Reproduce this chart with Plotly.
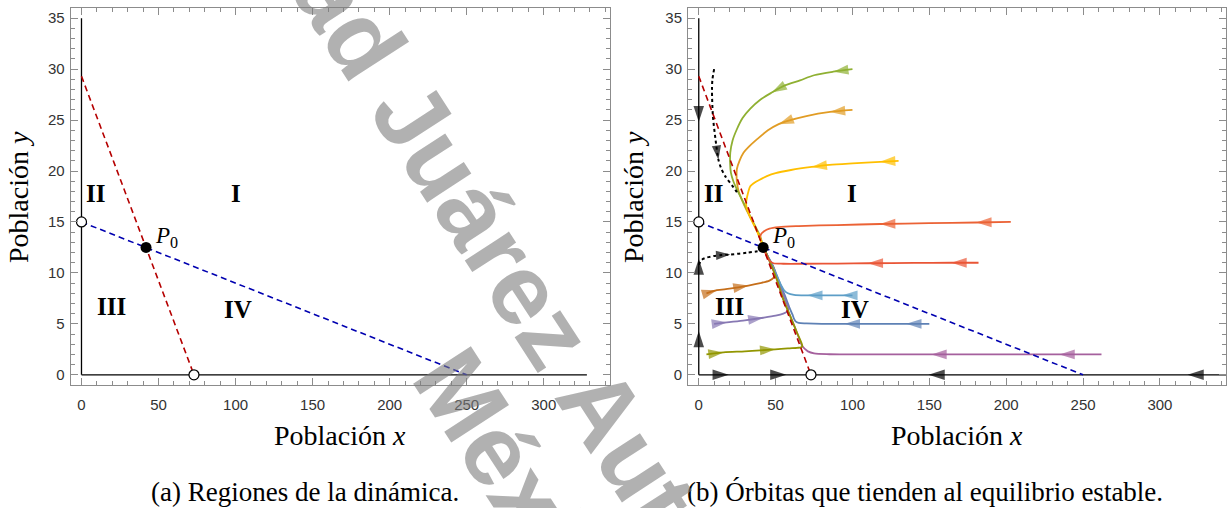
import plotly.graph_objects as go

# ---------------- data ----------------
# nullclines (straight lines through their axis intercepts)
null_x_xs = [0, 73]          # x-nullcline (red)
null_x_ys = [29.3, 0]
null_y_xs = [0, 250]         # y-nullcline (blue)
null_y_ys = [15, 0]

# equilibria
open_eq_x = [0, 73]
open_eq_y = [15, 0]
p0_x = [41.9]
p0_y = [12.5]

# region labels (text, x, y)
region_text = ["II", "I", "III", "IV"]
region_x = [9.3, 100, 19.7, 101.7]
region_y = [17.8, 17.8, 6.7, 6.4]

# orbits: x, y samples, indices carrying an arrowhead (tip), colour
orbits = [
    dict(x=[150, 135, 115, 95, 80, 70, 65, 63, 62, 61, 59, 56, 52, 48, 45, 42],
         y=[5.0, 5.0, 5.0, 5.0, 5.0, 5.05, 5.1, 5.25, 5.5, 5.9, 6.6, 7.8, 9.3, 10.8, 11.6, 12.5],
         arrows=[1, 3], color="#5E81B5"),
    dict(x=[100, 85.4, 70, 57.3, 52, 45, 37.8, 32, 29.1, 26.5, 24.8, 24.6, 24.8, 26, 28, 31, 35, 39, 42],
         y=[26, 25.8, 25.4, 24.9, 24.6, 24, 23.1, 22.3, 21.8, 21, 20.2, 19.5, 18.9, 18, 17.2, 16.2, 15, 13.7, 12.5],
         arrows=[1, 4], color="#E19C24"),
    dict(x=[100, 87.5, 75, 65.9, 56, 47.5, 40, 33.4, 28.5, 24.8, 22, 20.5, 20.4, 20.9, 22.5, 24.8, 29.1, 34.5, 39.9, 42],
         y=[30, 29.75, 29.4, 28.9, 28.4, 27.7, 27, 26.1, 25.2, 24.1, 23, 21.8, 20.8, 19.85, 19, 18.2, 16.9, 15.25, 13.6, 12.5],
         arrows=[1, 5], color="#8FB032"),
    dict(x=[203, 180.6, 150, 118, 90, 65, 52, 46, 42.5, 40.5, 40, 40.5, 41.3, 42],
         y=[15.0, 14.95, 14.88, 14.8, 14.7, 14.6, 14.5, 14.35, 14.1, 13.8, 13.5, 13.1, 12.8, 12.5],
         arrows=[1, 3], color="#EB6235"),
    dict(x=[10, 18.3, 30, 42, 50, 55, 57.5, 58.5, 57, 55, 52, 48, 45, 42],
         y=[5.0, 5.15, 5.35, 5.6, 5.8, 6.0, 6.2, 6.5, 7.1, 7.9, 9.1, 10.6, 11.6, 12.5],
         arrows=[1, 3], color="#8778B3"),
    dict(x=[5, 11.8, 20, 32.3, 40, 46, 48.5, 49.5, 49, 47, 45, 43.5, 42],
         y=[8.0, 8.3, 8.45, 8.76, 9.0, 9.25, 9.5, 9.9, 10.4, 11, 11.5, 12, 12.5],
         arrows=[1, 3], color="#C56E1A"),
    dict(x=[100, 93.4, 82, 70.6, 62, 58, 55.5, 53.5, 52, 50.5, 48, 45, 42],
         y=[7.8, 7.8, 7.8, 7.8, 7.85, 8.0, 8.3, 8.8, 9.3, 9.8, 10.7, 11.6, 12.5],
         arrows=[1, 3], color="#5D9EC7"),
    dict(x=[130, 118, 100, 85, 73.5, 60, 50, 44.3, 39, 36.7, 33.5, 32.3, 31.5, 30.8, 31, 32, 34, 36, 38.5, 40.5, 42],
         y=[21, 20.9, 20.75, 20.6, 20.4, 20.1, 19.8, 19.5, 19.1, 18.9, 18.5, 18.0, 17.5, 16.9, 16.5, 16, 15.3, 14.7, 13.9, 13.2, 12.5],
         arrows=[1, 4], color="#FFBF00"),
    dict(x=[262, 234.7, 200, 151.4, 110, 85, 75, 71, 69, 67.4, 64, 60.5, 55, 50.8, 46.5, 43, 42],
         y=[2.0, 2.0, 2.0, 2.0, 2.0, 2.02, 2.1, 2.3, 2.55, 2.8, 4.1, 5.4, 7.4, 9.35, 11, 12.2, 12.5],
         arrows=[1, 3], color="#A5609D"),
    dict(x=[5, 16.1, 30, 40, 49.7, 58, 64, 66.5, 67.4, 64, 60.5, 55, 50.8, 46.5, 43, 42],
         y=[2.0, 2.2, 2.3, 2.4, 2.5, 2.6, 2.65, 2.7, 2.8, 4.1, 5.4, 7.4, 9.35, 11, 12.2, 12.5],
         arrows=[1, 4], color="#929600"),
    dict(x=[182, 164.4, 140, 110, 90, 70, 55, 48.6, 46.4, 44.8, 43.5, 42],
         y=[11.0, 11.0, 10.98, 10.95, 10.92, 10.9, 10.9, 10.95, 11.15, 11.5, 11.9, 12.5],
         arrows=[1, 3], color="#E95536"),
]

# dotted orbits starting near the y axis
dotted_orbits = [
    dict(x=[10, 8.9, 8.6, 9.2, 10.9, 12.8, 14.5, 17.2, 22.6, 25.9],
         y=[30, 29, 28, 25.4, 23.1, 21.1, 20.3, 19.5, 18.4, 17.7], arrows=[5]),
    dict(x=[0, 2.1, 5, 9.6, 15, 20.5, 31.3, 42],
         y=[10.8, 11.3, 11.5, 11.65, 11.75, 11.8, 11.98, 12.2], arrows=[5]),
]

# invariant axes: arrows (tail -> tip)
axis_arrows = [
    ((0, 27.5), (0, 24.8)),
    ((0, 1.5), (0, 4.3)),
    ((0, 8.5), (0, 11.4)),
    ((5, 0), (19.5, 0)),
    ((42, 0), (57, 0)),
    ((165, 0), (149.5, 0)),
    ((333, 0), (318, 0)),
]

X_RANGE = [-7, 343]
Y_RANGE = [-1, 36]

SERIF = "Liberation Serif"
SANS = "Liberation Sans"
ARROW = "arrow"

fig = go.Figure()


def add_common(xa, ya, axis_len):
    # coordinate axes x=0, y=0
    fig.add_trace(go.Scatter(x=[0, 0], y=[0, 35], mode="lines",
                             line=dict(color="black", width=1.3),
                             xaxis=xa, yaxis=ya, hoverinfo="skip"))
    fig.add_trace(go.Scatter(x=[0, axis_len], y=[0, 0], mode="lines",
                             line=dict(color="black", width=1.3),
                             xaxis=xa, yaxis=ya, hoverinfo="skip"))


def add_nullclines(xa, ya):
    fig.add_trace(go.Scatter(x=null_x_xs, y=null_x_ys, mode="lines",
                             line=dict(color="#b50000", width=1.6, dash="6px,4px"),
                             xaxis=xa, yaxis=ya, hoverinfo="skip"))
    fig.add_trace(go.Scatter(x=null_y_xs, y=null_y_ys, mode="lines",
                             line=dict(color="#0000b0", width=1.6, dash="6px,4px"),
                             xaxis=xa, yaxis=ya, hoverinfo="skip"))


def add_points(xa, ya):
    fig.add_trace(go.Scatter(x=open_eq_x, y=open_eq_y, mode="markers",
                             marker=dict(size=10, color="white",
                                         line=dict(color="black", width=1.2)),
                             xaxis=xa, yaxis=ya, hoverinfo="skip"))
    fig.add_trace(go.Scatter(x=p0_x, y=p0_y, mode="markers",
                             marker=dict(size=11, color="black"),
                             xaxis=xa, yaxis=ya, hoverinfo="skip"))


# ---------- left panel ----------
add_common("x", "y", 328)
add_nullclines("x", "y")
add_points("x", "y")

# ---------- right panel ----------
add_common("x2", "y2", 343)
for o in orbits:
    sizes = [16 if i in o["arrows"] else 0 for i in range(len(o["x"]))]
    fig.add_trace(go.Scatter(
        x=o["x"], y=o["y"], mode="lines+markers",
        line=dict(color=o["color"], width=1.8, shape="spline", smoothing=0.8),
        marker=dict(symbol=ARROW, size=sizes, color=o["color"],
                    angleref="previous", line=dict(width=0)),
        xaxis="x2", yaxis="y2", hoverinfo="skip"))
for o in dotted_orbits:
    sizes = [15 if i in o["arrows"] else 0 for i in range(len(o["x"]))]
    fig.add_trace(go.Scatter(
        x=o["x"], y=o["y"], mode="lines+markers",
        line=dict(color="black", width=2, dash="dot", shape="spline", smoothing=0.8),
        marker=dict(symbol=ARROW, size=sizes, color="black",
                    angleref="previous", line=dict(width=0)),
        xaxis="x2", yaxis="y2", hoverinfo="skip"))
for (tail, tip) in axis_arrows:
    fig.add_trace(go.Scatter(
        x=[tail[0], tip[0]], y=[tail[1], tip[1]], mode="markers",
        marker=dict(symbol=ARROW, size=[0, 17], color="black",
                    angleref="previous", line=dict(width=0)),
        xaxis="x2", yaxis="y2", hoverinfo="skip"))
add_nullclines("x2", "y2")
add_points("x2", "y2")

# ---------- axes ----------
FRAME = "#8c8c8c"


def xaxis_style(domain):
    return dict(domain=domain, range=X_RANGE, showgrid=False, zeroline=False,
                showline=True, linecolor=FRAME, linewidth=1, mirror="ticks",
                ticks="inside", ticklen=7, tickcolor=FRAME, tickwidth=1,
                tick0=0, dtick=50, ticklabelstandoff=6,
                tickfont=dict(family=SANS, size=15, color="#333"),
                minor=dict(dtick=10, tick0=0, ticks="inside", ticklen=4,
                           tickcolor=FRAME, showgrid=False))


def yaxis_style(domain, anchor):
    return dict(domain=domain, range=Y_RANGE, showgrid=False, zeroline=False,
                showline=True, linecolor=FRAME, linewidth=1, mirror="ticks",
                ticks="inside", ticklen=7, tickcolor=FRAME, tickwidth=1,
                tick0=0, dtick=5, anchor=anchor, ticklabelstandoff=2,
                tickfont=dict(family=SANS, size=15, color="#333"),
                minor=dict(dtick=1, tick0=0, ticks="inside", ticklen=4,
                           tickcolor=FRAME, showgrid=False))


Y_DOM = [1 - 385 / 508, 1 - 8 / 508]
fig.update_layout(
    xaxis=dict(**xaxis_style([70.7 / 1227, 610 / 1227]), anchor="y"),
    yaxis=yaxis_style(Y_DOM, "x"),
    xaxis2=dict(**xaxis_style([688 / 1227, 1226 / 1227]), anchor="y2"),
    yaxis2=yaxis_style(Y_DOM, "x2"),
)


def paper_text(px, py, text, size, **kw):
    return dict(x=px / 1227, y=1 - py / 508, xref="paper", yref="paper",
                text=text, showarrow=False, xanchor="center", yanchor="middle",
                font=dict(family=kw.pop("family", SERIF), size=size,
                          color=kw.pop("color", "black")), **kw)


annotations = []
for xa, ya in (("x", "y"), ("x2", "y2")):
    for t, rx, ry in zip(region_text, region_x, region_y):
        annotations.append(dict(x=rx, y=ry, xref=xa, yref=ya, text="<b>%s</b>" % t,
                                xanchor="center", yanchor="middle",
                                showarrow=False, font=dict(family=SERIF, size=25, color="black")))
    annotations.append(dict(x=p0_x[0] + 4.5, y=p0_y[0] + 1.0, xref=xa, yref=ya,
                            text="<i>P</i><sub>0</sub>", xanchor="left", yanchor="middle",
                            showarrow=False, font=dict(family=SERIF, size=23, color="black")))

# axis titles
for cx, cy_left in ((340, 18), (957, 633)):
    annotations.append(paper_text(cx, 435, "Población <i>x</i>", 28))
    annotations.append(paper_text(cy_left, 197, "Población <i>y</i>", 28, textangle=-90))

# captions
annotations.append(paper_text(305, 492, "(a) Regiones de la dinámica.", 27))
annotations.append(paper_text(925, 492, "(b) Órbitas que tienden al equilibrio estable.", 27))

# institutional watermark (two lines, rotated)
WM_COLOR = "rgba(125,125,125,0.6)"
annotations.append(paper_text(616, 429, "<b>Universidad Juárez Autónoma de Tabasco</b>",
                              100, family=SANS, color=WM_COLOR, textangle=57))
annotations.append(paper_text(531, 501, "<b>México</b>",
                              100, family=SANS, color=WM_COLOR, textangle=57))

fig.update_layout(
    annotations=annotations,
    width=1227, height=508,
    margin=dict(l=0, r=0, t=0, b=0),
    paper_bgcolor="white", plot_bgcolor="white",
    showlegend=False,
)

fig.write_html("out.html")
